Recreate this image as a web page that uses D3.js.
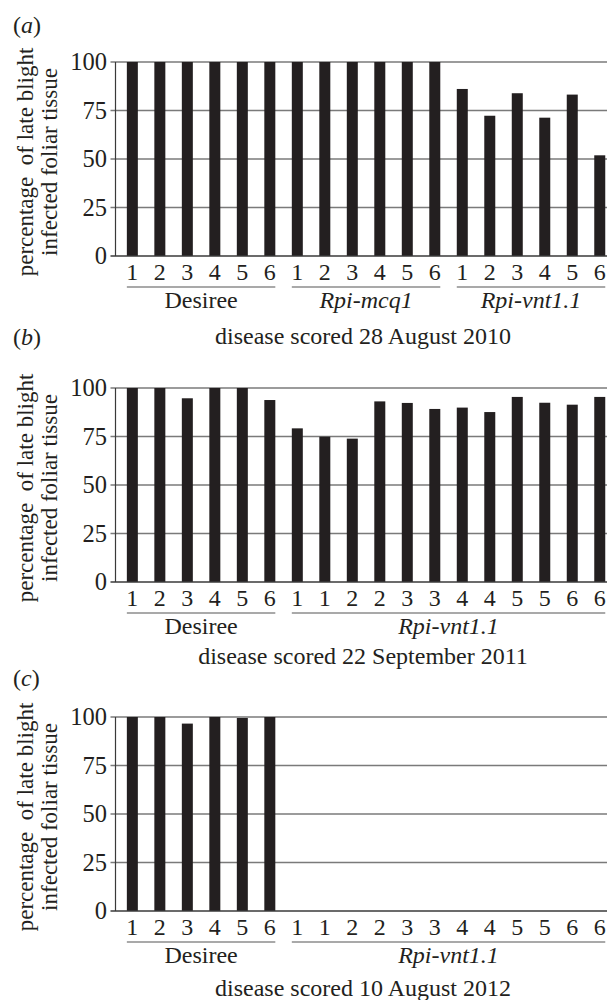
<!DOCTYPE html>
<html>
<head>
<meta charset="utf-8">
<script src="https://cdn.jsdelivr.net/npm/d3@7"></script>
<style>
  body { margin: 0; background: #fff; }
  text { font-family: "Liberation Serif", "Times New Roman", serif; fill: #231f20; }
</style>
</head>
<body>
<div id="chart"></div>
<script>
/*-------------------- Data --------------------*/

var yTicks = [0, 25, 50, 75, 100];

var labelsA = ["1", "2", "3", "4", "5", "6", "1", "2", "3", "4", "5", "6", "1", "2", "3", "4", "5", "6"];
var valuesA = [100, 100, 100, 100, 100, 100, 100, 100, 100, 100, 100, 100, 86.1, 72.3, 83.9, 71.3, 83.2, 51.9];
var groupsA = ["Desiree", "Rpi-mcq1", "Rpi-vnt1.1"];
var groupSizesA = [6, 6, 6];

var labelsBC = ["1", "2", "3", "4", "5", "6", "1", "1", "2", "2", "3", "3", "4", "4", "5", "5", "6", "6"];
var valuesB = [100, 100, 94.7, 100, 100, 93.8, 79.2, 74.9, 73.9, 93.1, 92.3, 89.2, 89.9, 87.6, 95.4, 92.4, 91.4, 95.4];
var valuesC = [100, 100, 96.6, 100, 99.5, 100, 0, 0, 0, 0, 0, 0, 0, 0, 0, 0, 0, 0];
var groupsBC = ["Desiree", "Rpi-vnt1.1"];
var groupSizesBC = [6, 12];

var panelLetters = ["a", "b", "c"];
var titles = ["disease scored 28 August 2010", "disease scored 22 September 2011", "disease scored 10 August 2012"];

/*-------------------- Layout --------------------*/

var width = 607, height = 1000;
var axisX = 115.5, plotH = 194;
var panelTops = [62, 388, 717];
var letterY = [33, 345, 686];
var titleOffsets = [88, 82, 85];

var svg = d3.select("#chart").append("svg")
    .attr("width", width)
    .attr("height", height);

var panels = [
    {labels: labelsA, values: valuesA, groups: groupsA, sizes: groupSizesA},
    {labels: labelsBC, values: valuesB, groups: groupsBC, sizes: groupSizesBC},
    {labels: labelsBC, values: valuesC, groups: groupsBC, sizes: groupSizesBC}
];

panels.forEach(function(p, k) {
    var top = panelTops[k];
    var g = svg.append("g").attr("transform", "translate(0," + top + ")");

    var xScale = d3.scaleBand()
        .domain(d3.range(p.values.length))
        .range([118.6, 613.5])
        .paddingInner(0.6)
        .paddingOuter(0.3);
    var yScale = d3.scaleLinear().domain([0, 100]).range([plotH, 0]);

    // gridlines
    g.selectAll("line.grid")
        .data(yTicks.filter(d => d > 0))
        .enter().append("line")
        .attr("class", "grid")
        .attr("x1", axisX - 5).attr("x2", width + 10)
        .attr("y1", d => yScale(d)).attr("y2", d => yScale(d))
        .attr("stroke", "#7a7a7a").attr("stroke-width", 1.3);

    // bars
    g.selectAll("rect.bar")
        .data(p.values)
        .enter().append("rect")
        .attr("class", "bar")
        .attr("x", (d, i) => xScale(i))
        .attr("width", xScale.bandwidth())
        .attr("y", d => yScale(d))
        .attr("height", d => plotH - yScale(d))
        .attr("fill", "#231f20");

    // baseline and y axis
    g.append("line")
        .attr("x1", axisX - 5).attr("x2", width + 10)
        .attr("y1", plotH).attr("y2", plotH)
        .attr("stroke", "#3a3a3a").attr("stroke-width", 1.3);
    g.append("line")
        .attr("x1", axisX).attr("x2", axisX)
        .attr("y1", yScale(100)).attr("y2", plotH)
        .attr("stroke", "#3a3a3a").attr("stroke-width", 1.2);

    // y tick labels
    g.selectAll("text.ytick")
        .data(yTicks)
        .enter().append("text")
        .attr("class", "ytick")
        .attr("x", 107)
        .attr("y", d => yScale(d))
        .attr("dy", "0.33em")
        .attr("text-anchor", "end")
        .style("font-size", "24.5px")
        .text(d => d);

    // x tick labels
    g.selectAll("text.xtick")
        .data(p.labels)
        .enter().append("text")
        .attr("class", "xtick")
        .attr("x", (d, i) => xScale(i) + xScale.bandwidth() / 2)
        .attr("y", plotH + 24)
        .attr("text-anchor", "middle")
        .style("font-size", "24px")
        .text(d => d);

    // group underlines and names
    var start = 0;
    p.groups.forEach(function(name, j) {
        var end = start + p.sizes[j] - 1;
        var x0 = xScale(start), x1 = xScale(end) + xScale.bandwidth();
        g.append("line")
            .attr("x1", x0).attr("x2", x1)
            .attr("y1", plotH + 31).attr("y2", plotH + 31)
            .attr("stroke", "#555").attr("stroke-width", 1.2);
        g.append("text")
            .attr("x", (x0 + x1) / 2)
            .attr("y", plotH + 52)
            .attr("text-anchor", "middle")
            .style("font-size", "24px")
            .style("font-style", name === "Desiree" ? "normal" : "italic")
            .text(name);
        start = end + 1;
    });

    // y axis title
    var yt = g.append("text")
        .attr("transform", "translate(0," + (plotH / 2 + 3) + ") rotate(-90)")
        .attr("text-anchor", "middle")
        .style("font-size", "23px");
    yt.append("tspan").attr("x", 0).attr("y", 33).text("percentage\u00a0 of late blight");
    yt.append("tspan").attr("x", 0).attr("y", 56.5).text("infected foliar tissue");

    // title under the panel
    g.append("text")
        .attr("x", 363)
        .attr("y", plotH + titleOffsets[k])
        .attr("text-anchor", "middle")
        .style("font-size", "24px")
        .text(titles[k]);

    // panel letter
    var lt = svg.append("text")
        .attr("x", 13)
        .attr("y", letterY[k])
        .style("font-size", "24px");
    lt.append("tspan").text("(");
    lt.append("tspan").style("font-style", "italic").text(panelLetters[k]);
    lt.append("tspan").text(")");
});
</script>
</body>
</html>
